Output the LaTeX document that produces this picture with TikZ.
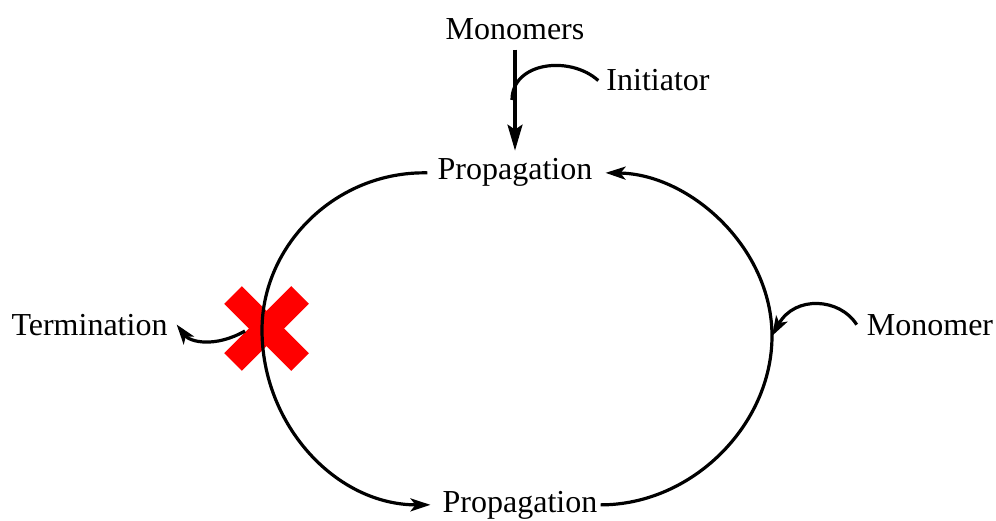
\documentclass[tikz,border=0pt]{standalone}
\usepackage{fontspec}
\setmainfont{Liberation Serif}
\usetikzlibrary{arrows.meta}
\begin{document}
\begin{tikzpicture}[x=1pt,y=-1pt,
  lbl/.style={font=\fontsize{32}{38}\selectfont, inner sep=0pt, anchor=base},
  conn/.style={line width=3.2pt, draw=black},
  tip/.style={-{Stealth[length=20pt,width=13pt,inset=5pt]}},
  longtip/.style={-{Stealth[length=26pt,width=15pt,inset=5pt]}},
  cross/.style={draw=red, line width=25pt},
]
\useasboundingbox (0,0) rectangle (996,521);
% labels
\node[lbl] (mono) at (515,40) {Monomers};
\node[lbl] (init) at (658,91) {Initiator};
\node[lbl] (ptop) at (515,180) {Propagation};
\node[lbl] (pbot) at (520,512) {Propagation};
\node[lbl] (term) at (89.5,335) {Termination};
\node[lbl] (mon) at (930,335) {Monomer};
% key points of the loop
\coordinate (lm) at (262,330);
\coordinate (rm) at (772,336);
\coordinate (j) at (512,100);
% red cross
\draw[cross] (233,295) -- (300,362);
\draw[cross] (300,295) -- (233,362);
% loop
\draw[conn,tip] ([xshift=-10pt]ptop.west) .. controls (336,171) and (262,245) .. (lm)
  .. controls (262,425) and (336,505) .. ([xshift=-12pt]pbot.west);
\draw[conn,tip] ([xshift=3pt]pbot.east) .. controls (692,505) and (772,425) .. (rm)
  .. controls (772,248) and (690,174) .. ([xshift=13pt]ptop.east);
% feeds
\draw[conn,longtip] ([yshift=-9pt]mono.south) -- ([yshift=8pt]ptop.north);
\draw[conn] ([xshift=-8pt]init.west) .. controls (570,55) and (512,62) .. (j);
\draw[conn,tip] ([xshift=-10pt]mon.west) .. controls (840,298) and (795,295) .. (rm);
\draw[conn,tip] (245,331) .. controls (215,348) and (190,342) .. ([xshift=9pt]term.east);
\end{tikzpicture}
\end{document}
